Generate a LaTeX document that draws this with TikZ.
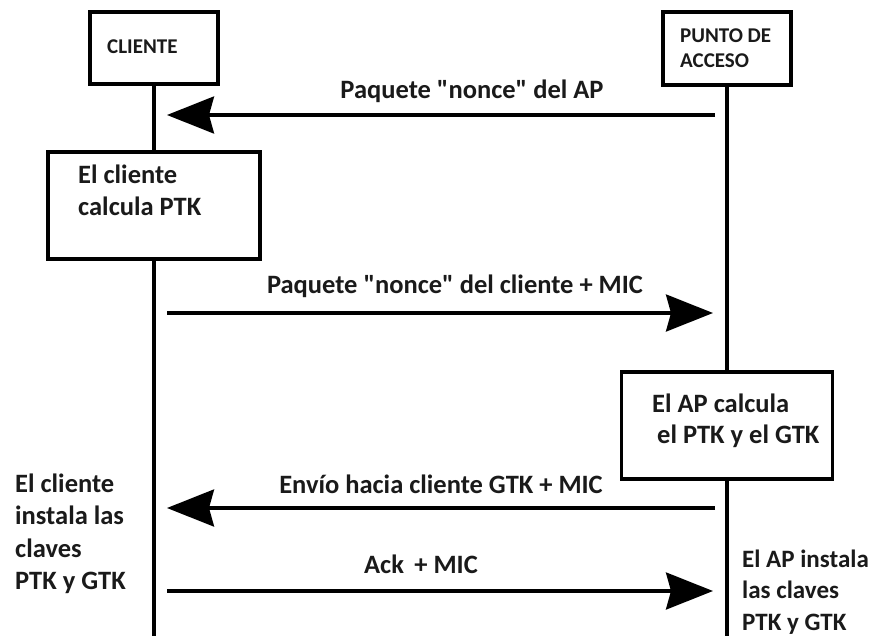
\documentclass[tikz,border=0pt]{standalone}
\usepackage{fontspec}
\setmainfont{Carlito}[Ligatures=TeXOff]
\usetikzlibrary{arrows.meta}
\definecolor{ink}{HTML}{1A1A1A}
\begin{document}
\begin{tikzpicture}[x=1pt,y=-1pt,
  every node/.style={text=ink},
  frame/.style={draw=black, line width=3.5pt, fill=white, inner sep=0pt},
  lbl/.style={font=\fontsize{26.5}{32}\selectfont\bfseries, inner sep=0pt, anchor=base},
  txt/.style={font=\fontsize{26.5}{32}\selectfont\bfseries, inner sep=0pt, anchor=base west},
  rtxt/.style={font=\fontsize{25}{32}\selectfont\bfseries, inner sep=0pt, anchor=base west},
  small/.style={font=\fontsize{21}{25}\selectfont\bfseries, inner sep=0pt, anchor=base west},
  life/.style={draw=black, line width=3.2pt},
  msg/.style={draw=black, line width=3.2pt, -{Stealth[length=47pt,width=37pt,inset=5pt]}}]
\useasboundingbox (0,0) rectangle (869,635);
% boxes
\node[frame, minimum width=128pt, minimum height=72pt] (cl) at (154,48) {};
\node[frame, minimum width=128pt, minimum height=73pt] (ap) at (727,48.5) {};
\node[frame, minimum width=212pt, minimum height=107pt] (clc) at (154,205.5) {};
\node[frame, minimum width=211pt, minimum height=107pt] (apc) at (727,425.5) {};
% bottom ends
\coordinate (clend) at (154,636);
\coordinate (apend) at (727,636);
% lifelines
\draw[life] (cl.south) -- (clc.north);
\draw[life] (clc.south) -- (clend);
\draw[life] (ap.south) -- (apc.north);
\draw[life] (apc.south) -- (apend);
% box texts
\node[small] (clt) at (107,53) {CLIENTE};
\node[small] (apt1) at (680,42) {PUNTO DE};
\node[small] (apt2) at (680,67) {ACCESO};
\node[txt] (clct1) at (78,183) {El cliente};
\node[txt] (clct2) at (78,215) {calcula PTK};
\node[txt] (apct1) at (652,412) {El AP calcula};
\node[txt] (apct2) at (657,443) {el PTK y el GTK};
% side texts
\node[txt] (l1) at (15,492) {El cliente};
\node[txt] (l2) at (15,524) {instala las};
\node[txt] (l3) at (15,557) {claves};
\node[txt] (l4) at (15,589) {PTK y GTK};
\node[rtxt] (r1) at (742,567) {El AP instala};
\node[rtxt] (r2) at (742,598) {las claves};
\node[rtxt] (r3) at (742,630) {PTK y GTK};
% message endpoints
\coordinate (a1s) at (715,115); \coordinate (a1e) at (167,115);
\coordinate (a2s) at (167,313); \coordinate (a2e) at (713,313);
\coordinate (a3s) at (715,508); \coordinate (a3e) at (167,508);
\coordinate (a4s) at (167,591); \coordinate (a4e) at (713,591);
\draw[msg] (a1s) -- (a1e);
\draw[msg] (a2s) -- (a2e);
\draw[msg] (a3s) -- (a3e);
\draw[msg] (a4s) -- (a4e);
% message labels
\node[lbl] (m1) at (472,98) {Paquete "nonce" del AP};
\node[lbl] (m2) at (455,293) {Paquete "nonce" del cliente + MIC};
\node[lbl] (m3) at (441,493) {Envío hacia cliente GTK + MIC};
\node[lbl] (m4) at (421,573) {Ack\, + MIC};
\end{tikzpicture}
\end{document}
